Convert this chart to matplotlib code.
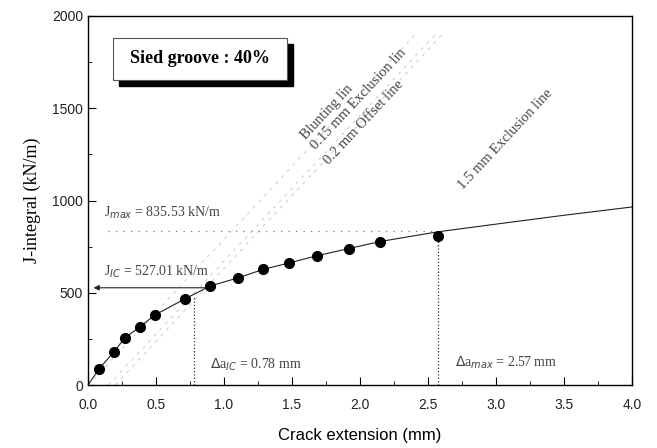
# J-R 曲线 (side groove 40%)
import matplotlib.pyplot as plt
from matplotlib.patches import Rectangle
from matplotlib.ticker import MultipleLocator

# 试验数据点
da = [0.08, 0.19, 0.27, 0.38, 0.49, 0.71, 0.90, 1.10, 1.29, 1.48, 1.68, 1.92, 2.15, 2.57]
J = [87, 179, 255, 314, 379, 466, 537, 580, 629, 661, 699, 737, 775, 808]

# 拟合曲线
fit_da = [0.0, 0.08, 0.19, 0.27, 0.38, 0.49, 0.71, 0.90, 1.10, 1.29, 1.48, 1.68, 1.92, 2.15, 2.57, 3.0, 3.5, 4.0]
fit_J = [0, 87, 179, 255, 314, 379, 466, 537, 580, 627, 662, 700, 740, 778, 830, 872, 920, 965]

# 钝化线 / 排除线（图上可见的三条）
offsets = [0.0, 0.15, 0.2]
slope = 790

J_ic, da_ic = 527.01, 0.78
J_max, da_max = 835.53, 2.57

serif = ['Liberation Serif', 'DejaVu Serif']
sans = ['Liberation Sans', 'DejaVu Sans']


def main():
    fig = plt.figure(figsize=(6.57, 4.48), dpi=100)
    ax = fig.add_axes([0.134, 0.1406, 0.828, 0.8237])

    # 构造线（很浅的虚线）
    for x0 in offsets:
        ax.plot([x0, x0 + 1900 / slope], [0, 1900], color='#c4c4c4', lw=0.6,
                ls=(0, (4, 6)), zorder=1)

    ax.plot(fit_da, fit_J, color='#222222', lw=0.8, zorder=2)
    ax.plot(da, J, 'o', color='black', ms=7, zorder=3)

    # J_IC
    ax.annotate('', xy=(0.02, J_ic), xytext=(0.88, J_ic),
                arrowprops=dict(arrowstyle='-|>', color='#222222', lw=0.8, mutation_scale=8))
    ax.plot([da_ic, da_ic], [0, 478], ls=':', color='#333333', lw=0.9)
    # J_max
    ax.plot([0.15, da_max], [J_max, J_max], ls=(0, (1, 5)), color='#777777', lw=0.9)
    ax.plot([da_max, da_max], [0, 805], ls=':', color='#333333', lw=0.9)

    tc = '#444444'
    ax.text(0.12, 932, r'J$_{max}$ = 835.53 kN/m', family=serif, fontsize=10, color=tc, va='center')
    ax.text(0.12, 612, r'J$_{IC}$ = 527.01 kN/m', family=serif, fontsize=10, color=tc, va='center')
    ax.text(0.9, 110, r'$\Delta$a$_{IC}$ = 0.78 mm', family=serif, fontsize=10, color=tc, va='center')
    ax.text(2.7, 118, r'$\Delta$a$_{max}$ = 2.57 mm', family=serif, fontsize=10, color=tc, va='center')

    rot = 47
    fs = 10.5
    ax.text(1.62, 1317, 'Blunting lin', family=serif, fontsize=fs, color=tc,
            rotation=rot, rotation_mode='anchor', ha='left', va='bottom')
    ax.text(1.69, 1263, '0.15 mm Exclusion lin', family=serif, fontsize=fs, color=tc,
            rotation=rot, rotation_mode='anchor', ha='left', va='bottom')
    ax.text(1.79, 1182, '0.2 mm Offset line', family=serif, fontsize=fs, color=tc,
            rotation=rot, rotation_mode='anchor', ha='left', va='bottom')
    ax.text(2.77, 1046, '1.5 mm Exclusion line', family=serif, fontsize=fs, color=tc,
            rotation=rot, rotation_mode='anchor', ha='left', va='bottom')

    # 标题框（带阴影）
    ax.add_patch(Rectangle((0.225, 1620), 1.28, 228, facecolor='black',
                           edgecolor='black', zorder=4))
    ax.add_patch(Rectangle((0.18, 1653), 1.28, 228, facecolor='white',
                           edgecolor='#555555', lw=0.8, zorder=5))
    ax.text(0.82, 1767, 'Sied groove : 40%', family=serif, fontsize=13, fontweight='bold',
            ha='center', va='center', zorder=6)

    ax.set_xlim(0, 4.0)
    ax.set_ylim(0, 2000)
    ax.xaxis.set_major_locator(MultipleLocator(0.5))
    ax.xaxis.set_minor_locator(MultipleLocator(0.25))
    ax.yaxis.set_major_locator(MultipleLocator(500))
    ax.yaxis.set_minor_locator(MultipleLocator(250))
    ax.xaxis.set_major_formatter(plt.FormatStrFormatter('%.1f'))
    ax.tick_params(which='both', direction='in', top=False, right=False)
    ax.tick_params(which='major', length=6, labelsize=10, labelcolor='#222222')
    ax.tick_params(axis='x', which='major', pad=9)
    ax.tick_params(which='minor', length=3)
    for lab in ax.get_xticklabels() + ax.get_yticklabels():
        lab.set_family(sans)
    for s in ax.spines.values():
        s.set_linewidth(1.0)

    ax.set_xlabel('Crack extension (mm)', family=sans, fontsize=12, labelpad=12)
    ax.set_ylabel('J-integral (kN/m)', family=serif, fontsize=13, labelpad=8)

    plt.savefig('out.png', dpi=100)


if __name__ == '__main__':
    main()
